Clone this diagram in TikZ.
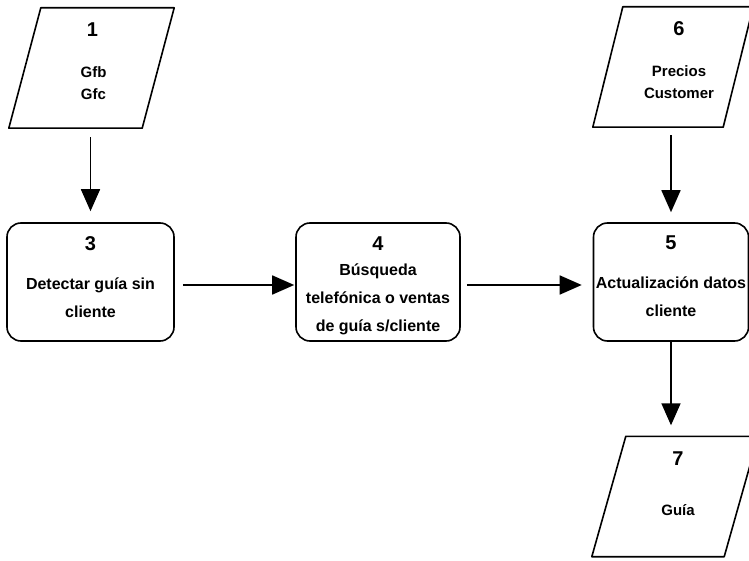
\documentclass[tikz,border=0pt]{standalone}
\usepackage{fontspec}
\setmainfont{Liberation Sans}
\usetikzlibrary{arrows.meta,positioning}

\tikzset{
	proc/.style={draw,line width=1.6pt,rounded corners=14pt,minimum width=#1,minimum height=118pt,inner sep=0pt},
	io/.style={minimum width=#1,minimum height=120pt,inner sep=0pt},
	ioline/.style={line width=1.6pt,line join=round},
	num/.style={font=\fontsize{20pt}{22pt}\selectfont\bfseries,inner sep=0pt},
	desc/.style={font=\fontsize{16pt}{28pt}\selectfont\bfseries,align=center,inner sep=0pt},
	iodesc/.style={font=\fontsize{15pt}{22pt}\selectfont\bfseries,align=center,inner sep=0pt},
	arr/.style={line width=1.7pt,-{Triangle[length=22pt,width=19pt]}}
}

\begin{document}
\begin{tikzpicture}[x=1pt,y=-1pt]
	\useasboundingbox (0,0) rectangle (749,561);

	% entradas / salidas
	\node[io=133pt] (p1) at (91.5,68) {};
	\node[io=130pt] (p6) at (673,67) {};
	\node[io=132pt] (p7) at (675,496.5) {};
	\draw[ioline] ([xshift=-16pt]p1.south west) -- ([xshift=-16pt]p1.south east) -- ([xshift=16pt]p1.north east) -- ([xshift=16pt]p1.north west) -- cycle;
	\draw[ioline] ([xshift=-15pt]p6.south west) -- ([xshift=-15pt]p6.south east) -- ([xshift=15pt]p6.north east) -- ([xshift=15pt]p6.north west) -- cycle;
	\draw[ioline] ([xshift=-17pt]p7.south west) -- ([xshift=-17pt]p7.south east) -- ([xshift=17pt]p7.north east) -- ([xshift=17pt]p7.north west) -- cycle;

	\node[num] (n1) at ([xshift=1pt,yshift=-22pt]p1.north) {1};
	\node[iodesc] (t1) at ([xshift=2pt,yshift=-15pt]p1.center) {Gfb\\Gfc};
	\node[num] (n6) at ([xshift=6pt,yshift=-22pt]p6.north) {6};
	\node[iodesc] (t6) at ([xshift=6pt,yshift=-15pt]p6.center) {Precios\\Customer};
	\node[num] (n7) at ([xshift=3pt,yshift=-22pt]p7.north) {7};
	\node[iodesc] (t7) at ([xshift=3pt,yshift=-14pt]p7.center) {Guía};

	% procesos
	\node[proc=167pt] (b3) at (90.5,282) {};
	\node[proc=164pt] (b4) at (378,282) {};
	\node[proc=155pt] (b5) at (671,282) {};

	\node[num] (n3) at ([yshift=-21pt]b3.north) {3};
	\node[desc] (t3) at ([yshift=-16pt]b3.center) {Detectar guía sin\\cliente};
	\node[num] (n4) at ([yshift=-21pt]b4.north) {4};
	\node[desc] (t4) at ([yshift=-17pt]b4.center) {Búsqueda\\telefónica o ventas\\de guía s/cliente};
	\node[num] (n5) at ([yshift=-21pt]b5.north) {5};
	\node[desc] (t5) at ([yshift=-15pt]b5.center) {Actualización datos\\cliente};

	% flujos
	\draw[arr,shorten <=9pt,shorten >=11pt] (p1.south -| b3.north) -- (b3.north);
	\draw[arr,shorten <=8pt,shorten >=1pt] ([yshift=-3pt]b3.east) -- ([yshift=-3pt]b4.west);
	\draw[arr,shorten <=6pt,shorten >=11pt] ([yshift=-3pt]b4.east) -- ([yshift=-3pt]b5.west);
	\draw[arr,shorten <=8pt,shorten >=10pt] (p6.south -| b5.north) -- (b5.north);
	\draw[arr,shorten >=11pt] (b5.south) -- (b5.south |- p7.north);
\end{tikzpicture}
\end{document}
